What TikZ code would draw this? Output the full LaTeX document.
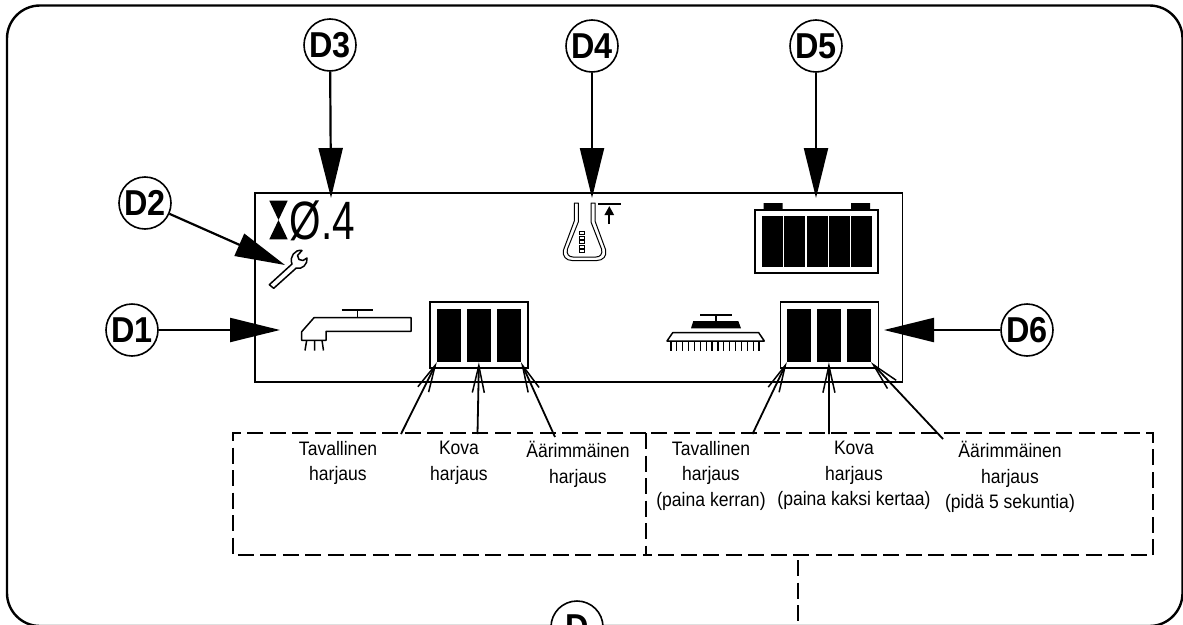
\documentclass[tikz,border=0pt]{standalone}
\usepackage{fontspec}
\setmainfont{Liberation Sans}
\newfontfamily\narrowfont[FakeStretch=.9]{Liberation Sans}
\usetikzlibrary{positioning,arrows.meta}
\newcommand{\dlabel}[1]{\scalebox{.9}[1]{\bfseries #1}}
\begin{document}
\begin{tikzpicture}[
  x=1pt, y=-1pt,
  callout/.style={draw,circle,line width=1.6pt,fill=white,minimum size=52pt,inner sep=0pt,font=\fontsize{36}{36}\selectfont},
  bigarrow/.style={line width=2.2pt,-{Triangle[length=50pt,width=24pt]}},
  smallarrow/.style={line width=1.8pt,-{Straight Barb[length=27pt,width=12pt,line width=1.5pt]}},
  cell/.style={fill=black,inner sep=0pt,minimum width=24pt,minimum height=53pt},
  barframe/.style={draw,line width=1.5pt,inner sep=0pt,minimum width=98pt,minimum height=66pt},
  dline/.style={line width=2pt,dash pattern=on 16pt off 6.5pt},
  dbox/.style={inner sep=0pt,minimum height=122pt},
  txt/.style={align=center,anchor=north,inner sep=0pt,font=\narrowfont\fontsize{19.5}{25.5}\selectfont,execute at begin node=\rule{0pt}{18pt}},
  icon/.style={draw,line width=1.5pt,line join=round}
]
\clip (0,0) rectangle (1183,624);
\draw[line width=2.4pt,rounded corners=33pt] (7,5.5) rectangle (1182.5,626);
\node[draw,line width=1.4pt,inner sep=0pt,minimum width=647.5pt,minimum height=189pt] (display) at (578.75,287.5) {};
% callouts
\node[callout] (d1) at (132,330) {\dlabel{D1}};
\node[callout] (d2) at (145,203) {\dlabel{D2}};
\node[callout] (d3) at (330,45) {\dlabel{D3}};
\node[callout] (d4) at (592,46) {\dlabel{D4}};
\node[callout] (d5) at (816,46) {\dlabel{D5}};
\node[callout] (d6) at (1027,330) {\dlabel{D6}};
\node[callout] (d) at (577,627) {\dlabel{D}};
% bars
\node[barframe] (lframe) at (479,335) {};
\node[cell] (la) at (449,335.5) {};
\node[cell,right=5.5pt of la] (lb) {};
\node[cell,right=5.5pt of lb] (lc) {};
\node[barframe] (rframe) at (829.5,335) {};
\node[cell] (ra) at (799,335.5) {};
\node[cell,right=5.5pt of ra] (rb) {};
\node[cell,right=5.5pt of rb] (rc) {};
% battery
\draw[line width=1.5pt] (755,210) rectangle (878,273);
\fill (763.5,203) rectangle (782.5,209.5) (851,203) rectangle (870,209.5);
\foreach \x in {762,784,807,829,851} \fill (\x,216) rectangle (\x+21,267);
% hourglass and value
\fill (269.3,200.7) -- (287.7,200.7) -- (278.5,220) -- (287.7,239.3) -- (269.3,239.3) -- (278.5,220) -- cycle;
\node[inner sep=0pt,font=\fontsize{54}{54}\selectfont] (value) at (322.5,221) {\scalebox{.75}[1]{Ø.4}};
% wrench
\draw[icon] (292,264) .. controls (289,257) and (295,249) .. (302,250.5) -- (297.5,255.5) -- (299,259.5) -- (303,260.5) -- (307,258) .. controls (308,264) and (302,270) .. (296.3,268) -- (273.7,288.3) -- (269.3,284.7) -- cycle;
% flask
\draw[line width=1pt,line join=round] (574.3,203) -- (574.3,221) -- (563.5,250) .. controls (562,256) and (566,260.5) .. (572,260.5) -- (597,260.5) .. controls (603,260.5) and (607,256) .. (605.7,250) -- (595,221) -- (595,203) -- (591,203) -- (591,222) -- (601.5,249) .. controls (603,254) and (600,257) .. (596,257) -- (573,257) .. controls (569,257) and (566,254) .. (567.5,249) -- (578.3,222) -- (578.3,203) -- cycle;
\foreach \y in {231.5,236,240.5,245,249.5} \draw[line width=.7pt] (579.3,\y) rectangle (584.7,\y+3);
\draw[line width=2.4pt] (598,204) -- (621,204);
\draw[line width=2.2pt,-{Triangle[length=9pt,width=9pt]}] (609.3,224) -- (609.3,206);
% tap
\draw[icon] (314,317.7) -- (411,317.7) -- (411,331.3) -- (326,331.3) -- (326,340.3) -- (301.7,340.3) -- (301.7,331.7) -- cycle;
\draw[icon] (341.7,310) -- (373.3,310) (357.3,310) -- (357.3,317.7);
\draw[icon] (306.7,340.3) -- (305,350.5) (314.5,340.3) -- (314.5,350.5) (322,340.3) -- (323.5,350.5);
% brush
\draw[icon] (700,315) -- (732,315) (716,315) -- (716,321);
\fill (693.3,321) -- (738.3,321) -- (741,328.3) -- (691,328.3) -- cycle;
\draw[icon] (672.7,332.7) -- (758.7,332.7) -- (764.3,341) -- (667,341) -- cycle;
\foreach \i in {0,...,15} \draw[line width=1.2pt] (671+\i*5.87,341) -- (671+\i*5.87,351);
% dashed boxes
\node[dbox,minimum width=412.5pt] (lbox) at (439.5,494.2) {};
\node[dbox,minimum width=506.8pt] (rbox) at (899.1,494.2) {};
\draw[dline] (lbox.north east) -- (lbox.north west) -- (lbox.south west) -- (lbox.south east);
\draw[dline] (rbox.north west) -- (rbox.south west) -- (rbox.south east) -- (rbox.north east) -- (rbox.north west);
\coordinate (tail) at (798,624);
\draw[dline] (798,560) -- (tail);
% texts
\node[txt] (ltxta) at (338,441) {Tavallinen\\harjaus};
\node[txt] (ltxtb) at (459,441) {Kova\\harjaus};
\node[txt] (ltxtc) at (578,441) {Äärimmäinen\\harjaus};
\node[txt] (rtxta) at (711,441) {Tavallinen\\harjaus\\(paina kerran)};
\node[txt] (rtxtb) at (854,441) {Kova\\harjaus\\(paina kaksi kertaa)};
\node[txt] (rtxtc) at (1010,441) {Äärimmäinen\\harjaus\\(pidä 5 sekuntia)};
% connectors
\coordinate (d1tip) at (280,330);
\coordinate (d2tip) at (285,265);
\coordinate (d3tip) at (331,198);
\coordinate (d4tip) at (592,198);
\coordinate (d5tip) at (816,198);
\coordinate (d6tip) at (884,330);
\draw[bigarrow] (d1) -- (d1tip);
\draw[bigarrow] (d2) -- (d2tip);
\draw[bigarrow] (d3) -- (d3tip);
\draw[bigarrow] (d4) -- (d4tip);
\draw[bigarrow] (d5) -- (d5tip);
\draw[bigarrow] (d6) -- (d6tip);
\coordinate (lsa) at (401,434);
\coordinate (lsb) at (477.5,434);
\coordinate (lsc) at (555,437);
\coordinate (rsa) at (752.5,434);
\coordinate (rsb) at (829,434);
\coordinate (rsc) at (943,439);
\draw[smallarrow] (lsa) -- (la.south west);
\draw[smallarrow] (lsb) -- (lb.south);
\draw[smallarrow] (lsc) -- (lc.south east);
\draw[smallarrow] (rsa) -- (ra.south west);
\draw[smallarrow] (rsb) -- (rb.south);
\draw[smallarrow] (rsc) -- (rc.south east);
\end{tikzpicture}
\end{document}
